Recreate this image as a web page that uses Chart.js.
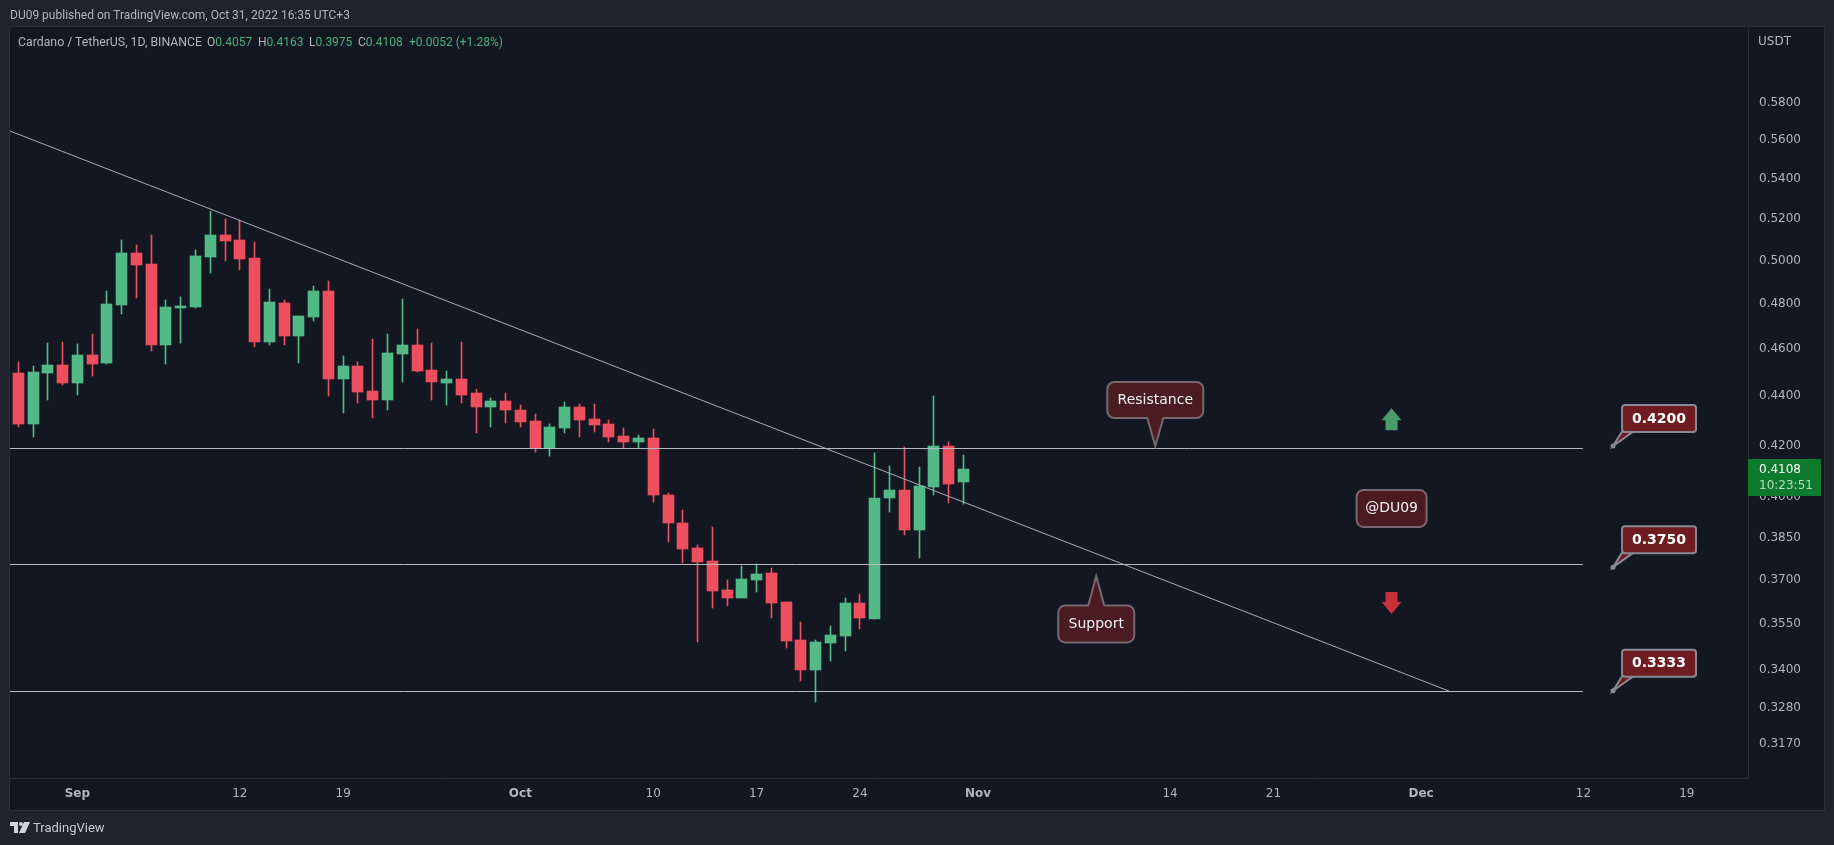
<!DOCTYPE html>
<html>
<head>
<meta charset="utf-8">
<title>Cardano / TetherUS</title>
<script src="https://cdn.jsdelivr.net/npm/chart.js@4"></script>
<style>
    html, body { margin: 0; padding: 0; background: #1f232e; overflow: hidden; }
    #wrap { position: relative; width: 1834px; height: 845px; font-family: Roboto, sans-serif; font-size: 12px; color: #b2b5be; }
    canvas { position: absolute; left: 0; top: 0; }
    .txt { position: absolute; white-space: nowrap; line-height: 16px; }
    .up { color: #4cb07c; }
</style>
</head>
<body>
<div id="wrap">
    <canvas id="chart" width="1834" height="845"></canvas>
    <div class="txt" style="left:10px;top:7px">DU09 published on TradingView.com, Oct 31, 2022 16:35 UTC+3</div>
    <div class="txt" style="left:18px;top:34px;font-size:12.3px">Cardano / TetherUS, 1D, BINANCE</div>
    <div class="txt" style="left:207px;top:34px">O<span class="up">0.4057</span></div>
    <div class="txt" style="left:258px;top:34px">H<span class="up">0.4163</span></div>
    <div class="txt" style="left:309px;top:34px">L<span class="up">0.3975</span></div>
    <div class="txt" style="left:358px;top:34px">C<span class="up">0.4108</span></div>
    <div class="txt up" style="left:409px;top:34px">+0.0052 (+1.28%)</div>
    <svg style="position:absolute;left:10px;top:822px" width="20" height="11" viewBox="0 0 20 11">
        <path d="M0 0H8V11H4V4H0Z M14 0H20L15 11H9Z" fill="#d1d4dc"/><circle cx="11" cy="2" r="2" fill="#d1d4dc"/>
    </svg>
    <div class="txt" style="left:33px;top:820px;color:#c8cad2;font-size:13px">TradingView</div>
</div>
<script>
// daily candles, Aug 28 to Oct 31 2022
const candleOpen = [
    0.4496, 0.4286, 0.4496, 0.4530, 0.4454, 0.4573, 0.4539, 0.4794, 0.5035, 0.4983,
    0.4616, 0.4780, 0.4785, 0.5016, 0.5121, 0.5097, 0.5011, 0.4629, 0.4803, 0.4655,
    0.4740, 0.4857, 0.4471, 0.4526, 0.4421, 0.4383, 0.4578, 0.4616, 0.4509, 0.4454,
    0.4471, 0.4412, 0.4354, 0.4379, 0.4342, 0.4298, 0.4190, 0.4269, 0.4354, 0.4306,
    0.4286, 0.4237, 0.4213, 0.4229, 0.4008, 0.3904, 0.3813, 0.3766, 0.3665, 0.3638,
    0.3700, 0.3724, 0.3624, 0.3497, 0.3399, 0.3487, 0.3510, 0.3621, 0.3566, 0.3997,
    0.4027, 0.3878, 0.4038, 0.4198, 0.4057
];
const candleHigh = [
    0.4543, 0.4526, 0.4625, 0.4629, 0.4621, 0.4664, 0.4857, 0.5097, 0.5073, 0.5121,
    0.4817, 0.4831, 0.5049, 0.5238, 0.5199, 0.5194, 0.5087, 0.4867, 0.4817, 0.4745,
    0.4880, 0.4903, 0.4569, 0.4543, 0.4642, 0.4664, 0.4821, 0.4686, 0.4625, 0.4505,
    0.4629, 0.4429, 0.4391, 0.4412, 0.4363, 0.4326, 0.4286, 0.4375, 0.4367, 0.4367,
    0.4302, 0.4269, 0.4241, 0.4265, 0.4016, 0.3952, 0.3824, 0.3889, 0.3700, 0.3749,
    0.3756, 0.3742, 0.3624, 0.3556, 0.3497, 0.3543, 0.3638, 0.3651, 0.4170, 0.4119,
    0.4193, 0.4115, 0.4400, 0.4213, 0.4163
];
const candleLow = [
    0.4273, 0.4233, 0.4383, 0.4446, 0.4404, 0.4484, 0.4535, 0.4753, 0.4826, 0.4591,
    0.4535, 0.4625, 0.4780, 0.4941, 0.4997, 0.4955, 0.4608, 0.4616, 0.4616, 0.4539,
    0.4723, 0.4400, 0.4330, 0.4371, 0.4310, 0.4342, 0.4459, 0.4501, 0.4383, 0.4363,
    0.4371, 0.4249, 0.4273, 0.4290, 0.4273, 0.4174, 0.4158, 0.4249, 0.4233, 0.4253,
    0.4213, 0.4190, 0.4190, 0.3982, 0.3835, 0.3759, 0.3490, 0.3604, 0.3611, 0.3638,
    0.3658, 0.3570, 0.3470, 0.3364, 0.3299, 0.3428, 0.3461, 0.3533, 0.3566, 0.3945,
    0.3860, 0.3777, 0.4008, 0.3978, 0.3975
];
const candleClose = [
    0.4286, 0.4501, 0.4530, 0.4454, 0.4573, 0.4535, 0.4799, 0.5035, 0.4978, 0.4616,
    0.4785, 0.4789, 0.5021, 0.5121, 0.5092, 0.5007, 0.4629, 0.4808, 0.4655, 0.4745,
    0.4857, 0.4471, 0.4526, 0.4417, 0.4383, 0.4582, 0.4616, 0.4505, 0.4459, 0.4471,
    0.4404, 0.4354, 0.4379, 0.4342, 0.4294, 0.4190, 0.4273, 0.4354, 0.4302, 0.4282,
    0.4233, 0.4213, 0.4229, 0.4008, 0.3904, 0.3810, 0.3763, 0.3662, 0.3638, 0.3703,
    0.3721, 0.3621, 0.3494, 0.3399, 0.3490, 0.3513, 0.3621, 0.3570, 0.3997, 0.4027,
    0.3878, 0.4042, 0.4198, 0.4050, 0.4108
];

// axes: x is days since Aug 28
const priceTicks = [0.58, 0.56, 0.54, 0.52, 0.50, 0.48, 0.46, 0.44, 0.42, 0.40, 0.385, 0.37, 0.355, 0.34, 0.328, 0.317];
const dayTicks = [4, 15, 22, 34, 43, 50, 57, 65, 78, 85, 95, 106, 113];
const dayTickLabels = ['Sep', '12', '19', 'Oct', '10', '17', '24', 'Nov', '14', '21', 'Dec', '12', '19'];
const monthTicks = ['Sep', 'Oct', 'Nov', 'Dec'];

// drawings
const levelPrices = [0.4189, 0.3755, 0.3332];
const levelTags = ['0.4200', '0.3750', '0.3333'];
const levelTagPrices = [0.4198, 0.3745, 0.3333];
const levelDays = [-0.56, 105.96];
const levelTagDay = 108;
const trendDays = [-0.56, 96.9];
const trendPrices = [0.5649, 0.3332];
const noteDay = 93;
const notePrice = 0.3958;
const upArrowPrice = 0.4350;
const downArrowPrice = 0.3583;
const resistanceDay = 77;
const resistancePrice = 0.4198;
const supportDay = 73;
const supportPrice = 0.3714;
const lastPriceLabel = '0.4108';
const lastCountdown = '10:23:51';

const GREEN = '#53b987';
const RED = '#ee4f5f';
const candleColors = candleClose.map((c, i) => c >= candleOpen[i] ? GREEN : RED);

const FONT = '"DejaVu Sans", sans-serif';

// keeps wicks, bodies and level lines on whole pixels
const snapPlugin = {
    id: 'snap',
    beforeDatasetDraw(chart, args) {
        const meta = args.meta;
        if (meta.type === 'bar') {
            meta.data.forEach(el => {
                el.x = Math.round(el.x - 0.5) + 0.5;
                el.y = Math.round(el.y);
                el.base = Math.round(el.base);
            });
        } else if (chart.data.datasets[args.index].level) {
            meta.data.forEach(el => { el.y = Math.floor(el.y) + 0.5; });
        }
    }
};

const framePlugin = {
    id: 'frame',
    beforeDraw(chart) {
        const ctx = chart.ctx;
        ctx.save();
        ctx.fillStyle = '#131722';
        ctx.fillRect(10, 27, 1814, 783);
        ctx.strokeStyle = '#2a2e39';
        ctx.lineWidth = 1;
        ctx.strokeRect(9.5, 26.5, 1815, 784);
        ctx.restore();
    }
};

function calloutPath(ctx, l, t, r, b, rad, tail) {
    ctx.beginPath();
    ctx.moveTo(l + rad, t);
    if (tail && tail.side === 'top') {
        ctx.lineTo(tail.x - tail.half, t);
        ctx.lineTo(tail.x, tail.y);
        ctx.lineTo(tail.x + tail.half, t);
    }
    ctx.arcTo(r, t, r, b, rad);
    ctx.arcTo(r, b, l, b, rad);
    if (tail && tail.side === 'bottom') {
        ctx.lineTo(tail.x + tail.half, b);
        ctx.lineTo(tail.x, tail.y);
        ctx.lineTo(tail.x - tail.half, b);
    }
    ctx.arcTo(l, b, l, t, rad);
    ctx.arcTo(l, t, r, t, rad);
    ctx.closePath();
}

function drawNote(ctx, text, cx, cy, w, h, tail) {
    calloutPath(ctx, cx - w / 2, cy - h / 2, cx + w / 2, cy + h / 2, 7, tail);
    ctx.fillStyle = '#4a1c22';
    ctx.fill();
    ctx.strokeStyle = '#77686f';
    ctx.lineWidth = 2;
    ctx.stroke();
    ctx.fillStyle = '#f2f2f2';
    ctx.font = '14px ' + FONT;
    ctx.textAlign = 'center';
    ctx.textBaseline = 'middle';
    ctx.fillText(text, cx, cy);
}

function drawLevelTag(ctx, text, x, y) {
    // pointer from the box down to the level
    ctx.beginPath();
    ctx.moveTo(x + 10, y - 16);
    ctx.lineTo(x, y);
    ctx.lineTo(x + 21, y - 15);
    ctx.closePath();
    ctx.fillStyle = '#6e1c20';
    ctx.fill();
    ctx.strokeStyle = '#868a94';
    ctx.lineWidth = 2;
    ctx.stroke();
    ctx.beginPath();
    ctx.arc(x, y, 2.5, 0, Math.PI * 2);
    ctx.fillStyle = '#868a94';
    ctx.fill();
    ctx.beginPath();
    ctx.roundRect(x + 9, y - 41, 74, 27, 3);
    ctx.fillStyle = '#6e1c20';
    ctx.fill();
    ctx.strokeStyle = '#868a94';
    ctx.lineWidth = 2;
    ctx.stroke();
    ctx.fillStyle = '#ffffff';
    ctx.font = 'bold 14px ' + FONT;
    ctx.textAlign = 'center';
    ctx.textBaseline = 'middle';
    ctx.fillText(text, x + 46, y - 27);
}

function drawArrow(ctx, x, tipY, dir, color) {
    // dir -1 points up, 1 points down
    ctx.beginPath();
    ctx.moveTo(x, tipY);
    ctx.lineTo(x + 10, tipY - dir * 12);
    ctx.lineTo(x + 6, tipY - dir * 12);
    ctx.lineTo(x + 6, tipY - dir * 22);
    ctx.lineTo(x - 6, tipY - dir * 22);
    ctx.lineTo(x - 6, tipY - dir * 12);
    ctx.lineTo(x - 10, tipY - dir * 12);
    ctx.closePath();
    ctx.fillStyle = color;
    ctx.fill();
}

const drawingsPlugin = {
    id: 'drawings',
    afterDraw(chart) {
        const ctx = chart.ctx;
        const xs = chart.scales.x;
        const ys = chart.scales.y;
        ctx.save();

        const rx = xs.getPixelForValue(resistanceDay);
        const ry = ys.getPixelForValue(resistancePrice);
        drawNote(ctx, 'Resistance', rx, ry - 46, 96, 36, { side: 'bottom', x: rx, y: ry, half: 8 });

        const sx = xs.getPixelForValue(supportDay);
        const sy = ys.getPixelForValue(supportPrice);
        drawNote(ctx, 'Support', sx, sy + 48, 76, 37, { side: 'top', x: sx, y: sy, half: 8 });

        const nx = xs.getPixelForValue(noteDay);
        drawNote(ctx, '@DU09', nx, ys.getPixelForValue(notePrice), 70, 37);
        drawArrow(ctx, nx, ys.getPixelForValue(upArrowPrice), -1, '#4a9a6a');
        drawArrow(ctx, nx, ys.getPixelForValue(downArrowPrice), 1, '#c9303e');

        const tagX = xs.getPixelForValue(levelTagDay);
        levelTags.forEach((t, i) => drawLevelTag(ctx, t, tagX, ys.getPixelForValue(levelTagPrices[i])));

        // last price tag on the axis
        const lastY = ys.getPixelForValue(candleClose[candleClose.length - 1]);
        ctx.fillStyle = '#0e7a2d';
        ctx.fillRect(chart.chartArea.right, lastY - 10, 73, 37);
        ctx.textAlign = 'left';
        ctx.textBaseline = 'middle';
        ctx.font = '12px ' + FONT;
        ctx.fillStyle = '#ffffff';
        ctx.fillText(lastPriceLabel, 1759, lastY + 1);
        ctx.fillStyle = '#b5dcc2';
        ctx.fillText(lastCountdown, 1759, lastY + 17);

        // currency label top right
        ctx.fillStyle = '#b2b5be';
        ctx.fillText('USDT', 1758, 42);
        ctx.restore();
    }
};

const levelDatasets = levelPrices.map(p => ({
    type: 'line',
    level: true,
    data: levelDays.map(d => ({ x: d, y: p })),
    borderColor: '#b6b8c0',
    borderWidth: 1,
    pointRadius: 0,
    order: 1
}));

new Chart(document.getElementById('chart').getContext('2d'), {
    type: 'bar',
    data: {
        datasets: [
            {
                data: candleLow.map((l, i) => ({ x: i, y: [l, candleHigh[i]] })),
                backgroundColor: candleColors,
                barThickness: 1,
                grouped: false,
                order: 3
            },
            {
                data: candleOpen.map((o, i) => ({ x: i, y: [o, candleClose[i]] })),
                backgroundColor: candleColors,
                barThickness: 11,
                grouped: false,
                order: 2
            },
            ...levelDatasets,
            {
                type: 'line',
                data: trendDays.map((d, i) => ({ x: d, y: trendPrices[i] })),
                borderColor: '#a9abb4',
                borderWidth: 1,
                pointRadius: 0,
                order: 1
            }
        ]
    },
    options: {
        responsive: false,
        animation: false,
        devicePixelRatio: 1,
        layout: { padding: { left: 10, top: 27, right: 10, bottom: 35 } },
        plugins: { legend: { display: false }, tooltip: { enabled: false } },
        scales: {
            x: {
                type: 'linear',
                offset: false,
                min: -0.564,
                max: 117.14,
                afterFit(scale) { scale.height = 32; },
                afterBuildTicks(scale) { scale.ticks = dayTicks.map(v => ({ value: v })); },
                grid: { display: false, drawTicks: false, offset: false },
                border: { color: '#2a2e39' },
                ticks: {
                    autoSkip: false,
                    maxRotation: 0,
                    padding: 9,
                    color: '#b2b5be',
                    font: ctx => ({
                        family: FONT,
                        size: 12,
                        weight: monthTicks.includes(dayTickLabels[ctx.index]) ? 'bold' : 'normal'
                    }),
                    callback: (v, i) => dayTickLabels[i]
                }
            },
            y: {
                type: 'logarithmic',
                position: 'right',
                min: 0.3070,
                max: 0.6231,
                afterFit(scale) { scale.width = 76; },
                afterBuildTicks(scale) { scale.ticks = priceTicks.map(v => ({ value: v })); },
                grid: { display: false, drawTicks: false },
                border: { color: '#2a2e39' },
                ticks: {
                    autoSkip: false,
                    crossAlign: 'near',
                    padding: 11,
                    color: '#b2b5be',
                    font: { family: FONT, size: 12 },
                    callback: v => Number(v).toFixed(4)
                }
            }
        }
    },
    plugins: [framePlugin, snapPlugin, drawingsPlugin]
});
</script>
</body>
</html>
